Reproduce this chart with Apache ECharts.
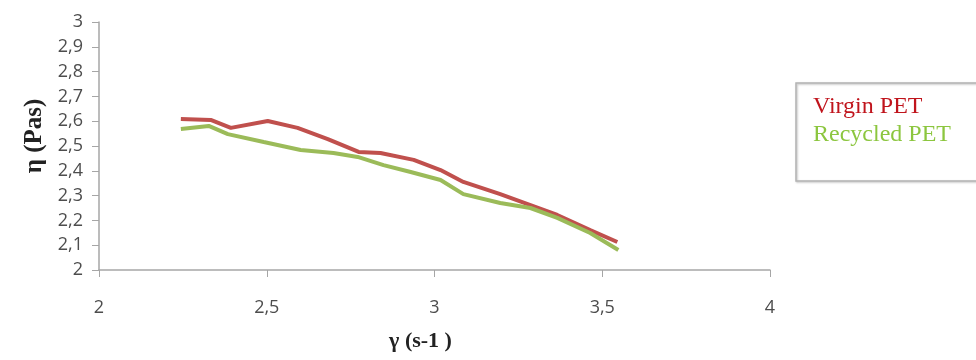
<!DOCTYPE html>
<html>
<head>
<meta charset="utf-8">
<script src="https://cdn.jsdelivr.net/npm/echarts@6/dist/echarts.min.js"></script>
<style>
  html, body { margin: 0; padding: 0; background: #fff; }
  #main { width: 976px; height: 360px; }
</style>
</head>
<body>
<div id="main"></div>
<script>
// shear rate (x) and viscosity (y)
var virginX = [2.244, 2.333, 2.393, 2.503, 2.592, 2.682, 2.774, 2.839, 2.938, 3.018, 3.086, 3.196, 3.286, 3.366, 3.464, 3.545];
var virginY = [2.609, 2.605, 2.573, 2.601, 2.573, 2.528, 2.476, 2.472, 2.444, 2.403, 2.355, 2.306, 2.262, 2.222, 2.161, 2.113];
var recycledX = [2.244, 2.327, 2.384, 2.491, 2.601, 2.699, 2.771, 2.848, 2.929, 3.018, 3.086, 3.196, 3.286, 3.366, 3.464, 3.548];
var recycledY = [2.569, 2.581, 2.548, 2.516, 2.484, 2.472, 2.456, 2.423, 2.395, 2.363, 2.306, 2.270, 2.250, 2.210, 2.149, 2.081];
var seriesNames = ['Virgin PET', 'Recycled PET'];

function pairs(xs, ys) {
    var out = [];
    for (var i = 0; i < xs.length; i++) out.push([xs[i], ys[i]]);
    return out;
}
function comma(v) {
    return String(v).replace('.', ',');
}

var axisGray = '#a6a6a6';
var labelGray = '#4d4d4d';

var chart = echarts.init(document.getElementById('main'));
chart.setOption({
    animation: false,
    grid: { left: 99, right: 206, top: 22, bottom: 90 },
    legend: {
        orient: 'vertical',
        left: 796,
        top: 83,
        icon: 'none',
        itemWidth: 0,
        itemGap: 4,
        padding: [12, 40, 34, 12],
        borderColor: '#b3b3b3',
        borderWidth: 1.5,
        shadowColor: 'rgba(0,0,0,0.25)',
        shadowOffsetX: 1,
        shadowOffsetY: 1,
        shadowBlur: 2,
        textStyle: { fontFamily: 'Liberation Serif', fontSize: 24 },
        data: [
            { name: seriesNames[0], textStyle: { color: '#c0141c' } },
            { name: seriesNames[1], textStyle: { color: '#8cc63f' } }
        ]
    },
    xAxis: {
        type: 'value',
        min: 2, max: 4, interval: 0.5,
        name: 'γ (s-1 )',
        nameLocation: 'middle',
        nameGap: 60,
        nameTextStyle: { fontFamily: 'Liberation Serif', fontWeight: 'bold', fontSize: 22, color: '#222', padding: [0, 28, 0, 0] },
        axisLine: { lineStyle: { color: axisGray, width: 1.5 } },
        axisTick: { length: 7, lineStyle: { color: axisGray } },
        axisLabel: { margin: 29, color: labelGray, fontFamily: 'Open Sans', fontSize: 18, formatter: comma },
        splitLine: { show: false }
    },
    yAxis: {
        type: 'value',
        min: 2, max: 3, interval: 0.1,
        name: 'η (Pas)',
        nameLocation: 'middle',
        nameRotate: 90,
        nameGap: 52,
        nameTextStyle: { fontFamily: 'Liberation Serif', fontWeight: 'bold', fontSize: 25, color: '#222', padding: [0, 0, 0, 20] },
        axisLine: { show: true, lineStyle: { color: axisGray, width: 1.5 } },
        axisTick: { show: true, length: 7, lineStyle: { color: axisGray } },
        axisLabel: { margin: 16, color: labelGray, fontFamily: 'Open Sans', fontSize: 18,
            formatter: function (v) { return comma(Math.round(v * 10) / 10); } },
        splitLine: { show: false }
    },
    series: [
        {
            name: seriesNames[0], type: 'line', showSymbol: false,
            lineStyle: { color: '#c0504d', width: 4 }, itemStyle: { color: '#c0504d' },
            data: pairs(virginX, virginY)
        },
        {
            name: seriesNames[1], type: 'line', showSymbol: false,
            lineStyle: { color: '#9bbb59', width: 4 }, itemStyle: { color: '#9bbb59' },
            data: pairs(recycledX, recycledY)
        }
    ]
});
</script>
</body>
</html>
